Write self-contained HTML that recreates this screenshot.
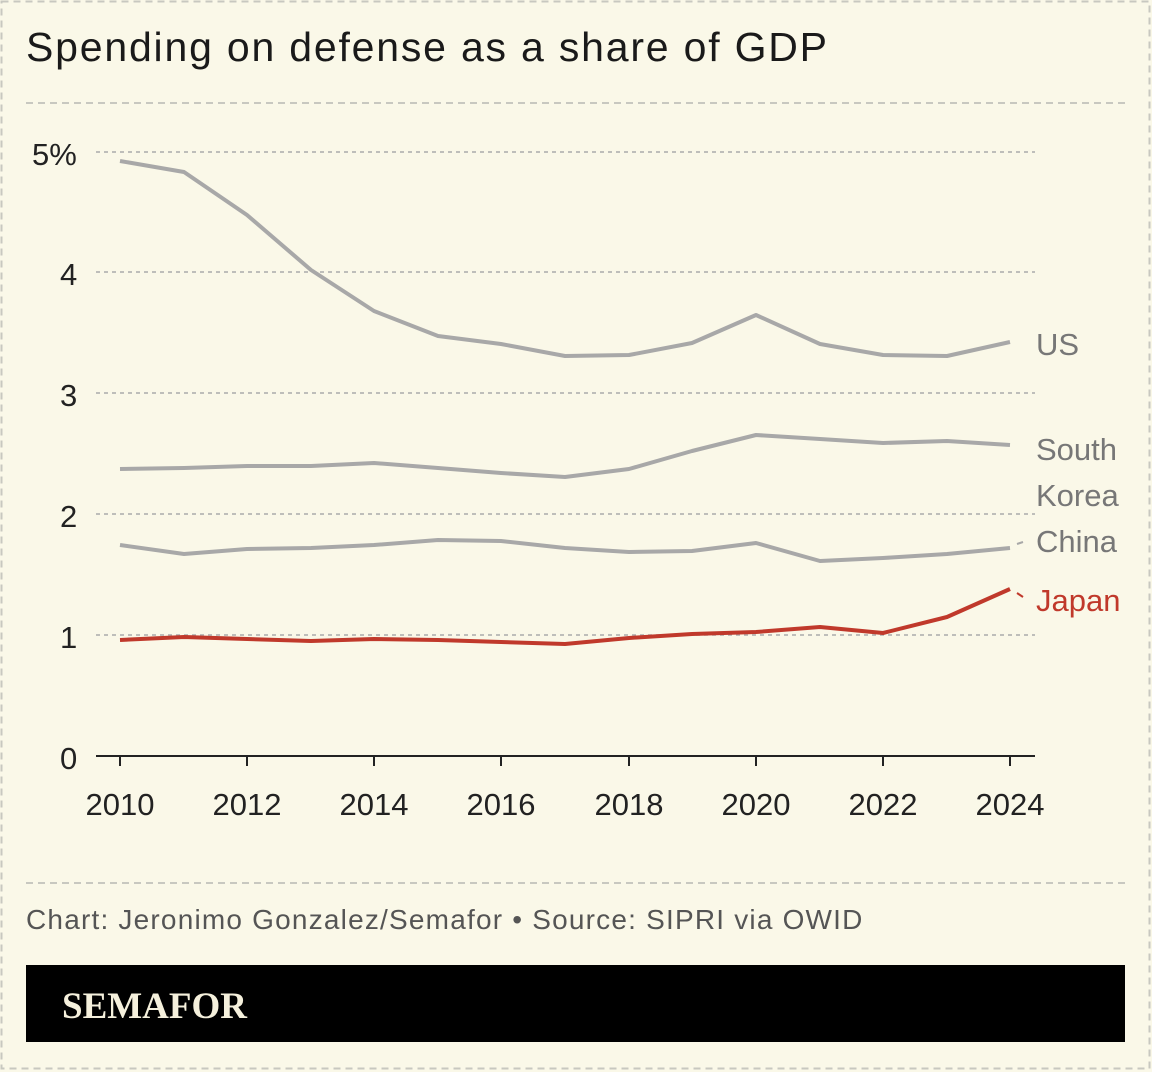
<!DOCTYPE html>
<html><head><style>
body{margin:0;background:#faf8e8;}
svg{display:block}
</style></head><body>
<svg width="1152" height="1072" xmlns="http://www.w3.org/2000/svg">
<rect x="0" y="0" width="1152" height="1072" fill="#faf8e8"/>
<rect x="1.5" y="1.5" width="1148" height="1067" fill="none" stroke="#c8c8c0" stroke-width="2" stroke-dasharray="7,5"/>
<text x="26" y="61" font-family="Liberation Sans, sans-serif" font-size="41" letter-spacing="1.8" fill="#1a1a1a">Spending on defense as a share of GDP</text>
<line x1="26" y1="103" x2="1126" y2="103" stroke="#c8c8c0" stroke-width="2" stroke-dasharray="7,5"/>
<g stroke="#aaa" stroke-width="1.5" stroke-dasharray="4,4">
<line x1="96" y1="152" x2="1035" y2="152"/>
<line x1="96" y1="272" x2="1035" y2="272"/>
<line x1="96" y1="393" x2="1035" y2="393"/>
<line x1="96" y1="514" x2="1035" y2="514"/>
<line x1="96" y1="635" x2="1035" y2="635"/>
</g>
<g font-family="Liberation Sans, sans-serif" font-size="31" fill="#222">
<text x="32" y="165">5%</text>
<text x="60" y="285">4</text>
<text x="60" y="406">3</text>
<text x="60" y="527">2</text>
<text x="60" y="648">1</text>
<text x="60" y="769">0</text>
</g>
<line x1="96" y1="756" x2="1035" y2="756" stroke="#222" stroke-width="2"/>
<g stroke="#222" stroke-width="2">
<line x1="120" y1="756" x2="120" y2="766"/><line x1="247" y1="756" x2="247" y2="766"/>
<line x1="374" y1="756" x2="374" y2="766"/><line x1="501" y1="756" x2="501" y2="766"/>
<line x1="629" y1="756" x2="629" y2="766"/><line x1="756" y1="756" x2="756" y2="766"/>
<line x1="883" y1="756" x2="883" y2="766"/><line x1="1010" y1="756" x2="1010" y2="766"/>
</g>
<g font-family="Liberation Sans, sans-serif" font-size="31" fill="#222" text-anchor="middle">
<text x="120" y="815">2010</text><text x="247" y="815">2012</text><text x="374" y="815">2014</text>
<text x="501" y="815">2016</text><text x="629" y="815">2018</text><text x="756" y="815">2020</text>
<text x="883" y="815">2022</text><text x="1010" y="815">2024</text>
</g>
<g fill="none" stroke-width="4" stroke-linejoin="round">
<polyline stroke="#a8a8a8" points="120,161 184,172 247,215 311,270 374,311 438,336 501,344 565,356 629,355 692,343 756,315 820,344 883,355 947,356 1010,342"/>
<polyline stroke="#a8a8a8" points="120,469 184,468 247,466 311,466 374,463 438,468 501,473 565,477 629,469 692,451 756,435 820,439 883,443 947,441 1010,445"/>
<polyline stroke="#a8a8a8" points="120,545 184,554 247,549 311,548 374,545 438,540 501,541 565,548 629,552 692,551 756,543 820,561 883,558 947,554 1010,548"/>
<polyline stroke="#c0392b" points="120,640 184,637 247,639 311,641 374,639 438,640 501,642 565,644 629,638 692,634 756,632 820,627 883,633 947,617 1010,589"/>
</g>
<line x1="1017" y1="544" x2="1023" y2="542" stroke="#a8a8a8" stroke-width="2"/>
<line x1="1017" y1="593" x2="1023" y2="597" stroke="#c0392b" stroke-width="2"/>
<g font-family="Liberation Sans, sans-serif" font-size="31">
<text x="1036" y="355" fill="#777">US</text>
<text x="1036" y="460" fill="#777">South</text>
<text x="1036" y="506" fill="#777">Korea</text>
<text x="1036" y="552" fill="#777">China</text>
<text x="1036" y="611" fill="#c0392b">Japan</text>
</g>
<line x1="26" y1="883" x2="1126" y2="883" stroke="#c8c8c0" stroke-width="2" stroke-dasharray="7,5"/>
<text x="26" y="929" font-family="Liberation Sans, sans-serif" font-size="28" letter-spacing="1.2" fill="#555">Chart: Jeronimo Gonzalez/Semafor • Source: SIPRI via OWID</text>
<rect x="26" y="965" width="1099" height="77" fill="#000"/>
<text x="62" y="1018" font-family="Liberation Serif, serif" font-weight="bold" font-size="37" fill="#f5f0dc">SEMAFOR</text>
</svg>
</body></html>
